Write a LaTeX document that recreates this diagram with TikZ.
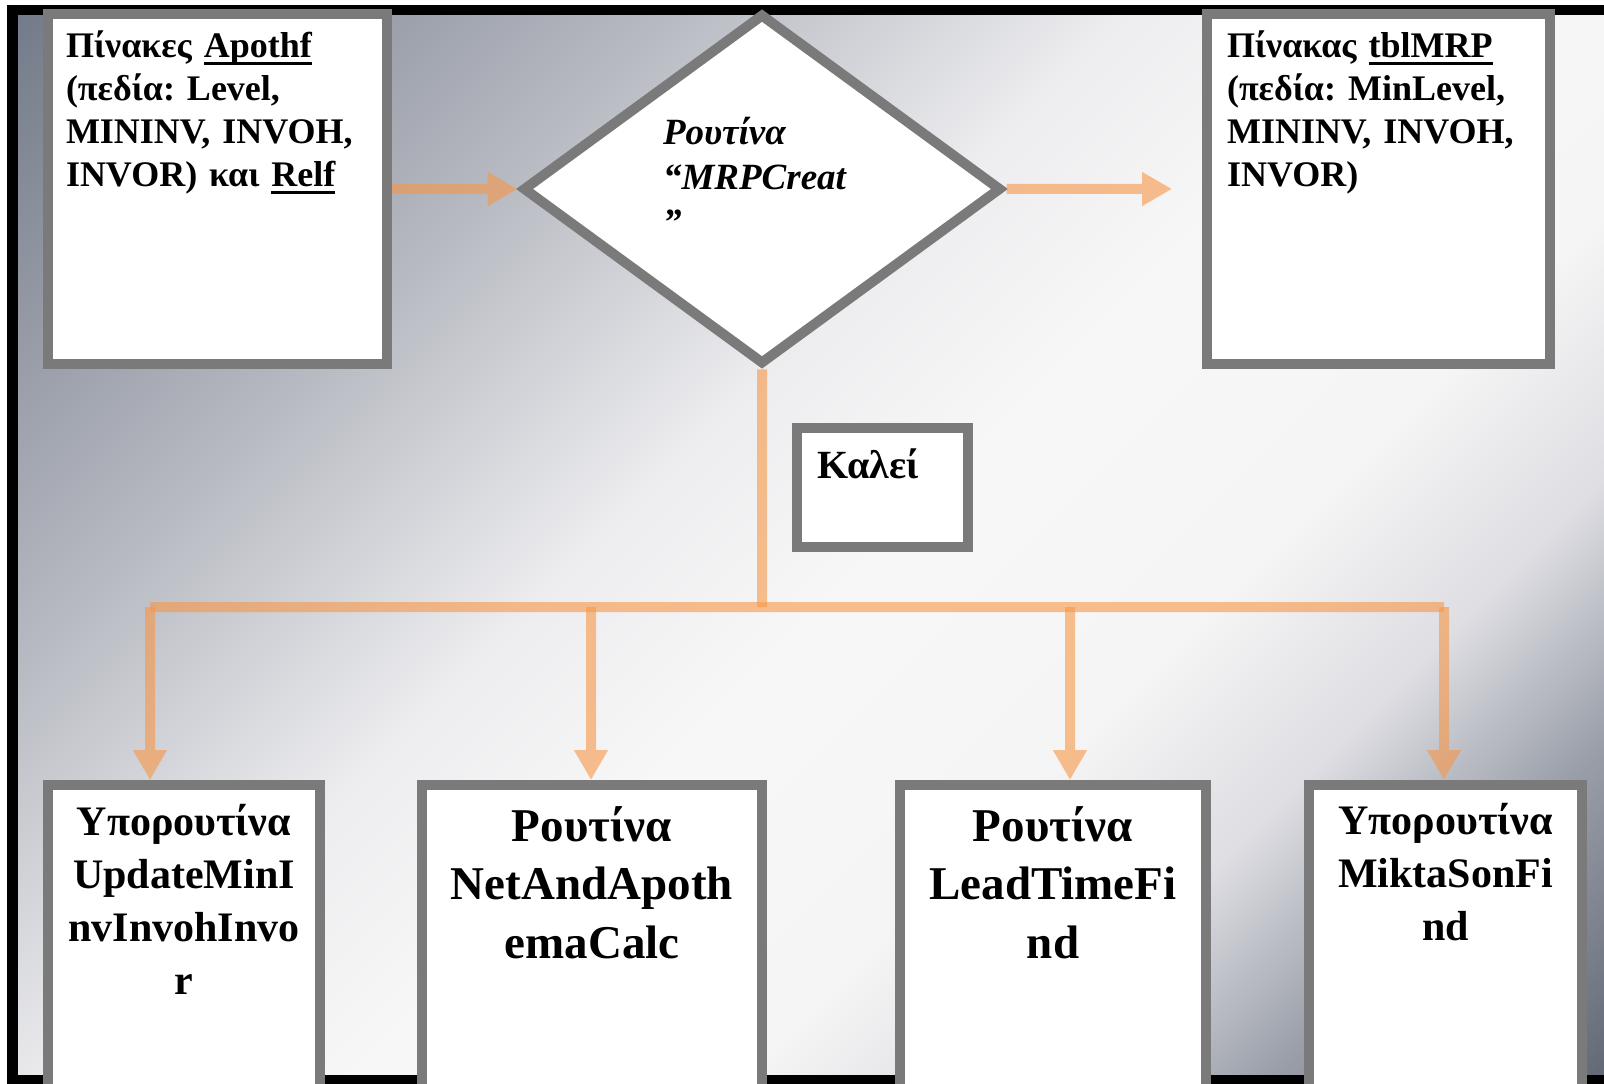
\documentclass[tikz,border=0pt]{standalone}
\usepackage{fontspec}
\setmainfont{Liberation Serif}
\usetikzlibrary{arrows.meta,shapes.geometric}

\definecolor{boxgray}{RGB}{122,122,122}
\definecolor{flow}{RGB}{247,150,70}
\newcommand{\ulword}[1]{\leavevmode\setbox0\hbox{#1}\rlap{\rule[-3.4pt]{\wd0}{1.2pt}}\box0}
\frenchspacing

\pgfdeclareverticalshading{bgfade}{100bp}{rgb(0bp)=(0.33,0.35,0.41); rgb(14bp)=(0.36,0.38,0.44); rgb(24bp)=(0.6,0.62,0.66); rgb(31bp)=(0.87,0.87,0.89); rgb(38bp)=(0.96,0.96,0.96); rgb(48bp)=(0.97,0.97,0.97); rgb(56bp)=(0.93,0.93,0.94); rgb(68bp)=(0.72,0.73,0.76); rgb(86bp)=(0.44,0.47,0.53); rgb(100bp)=(0.38,0.41,0.47)}

\begin{document}
\begin{tikzpicture}[x=0.5pt,y=0.5pt,line join=miter,
  tablebox/.style={rectangle,draw=boxgray,fill=white,line width=5pt,inner ysep=0pt,
    align=left,text height=22pt,text depth=153pt,font=\bfseries\fontsize{18}{21.5}\selectfont},
  routinebox/.style={diamond,draw=boxgray,fill=white,line width=5pt,aspect=1.35,
    minimum width=239.5pt,minimum height=175.5pt,inner sep=0pt,text width=99pt,align=left,
    text height=14pt,text depth=58pt,font=\bfseries\itshape\fontsize{18.5}{22.5}\selectfont},
  callbox/.style={rectangle,draw=boxgray,fill=white,line width=5pt,inner xsep=10pt,inner ysep=0pt,
    text width=65.5pt,align=left,text height=25pt,text depth=34.5pt,font=\bfseries\fontsize{20}{24}\selectfont},
  subbox/.style={rectangle,draw=boxgray,fill=white,line width=5pt,inner xsep=8pt,inner ysep=0pt,
    align=center,text height=25pt,text depth=137.5pt,font=\bfseries\fontsize{21}{26.5}\selectfont},
  mainbox/.style={rectangle,draw=boxgray,fill=white,line width=5pt,inner xsep=10pt,inner ysep=0pt,
    align=center,text height=28pt,text depth=134.5pt,font=\bfseries\fontsize{23.5}{29.25}\selectfont},
  flowgroup/.style={transparency group,opacity=0.6},
  flowline/.style={draw=flow,line width=5pt},
  flowarrow/.style={flowline,-{Triangle[length=15pt,width=16pt]}}]
\useasboundingbox (0,0) rectangle (1604,1083);
\clip (0,0) rectangle (1604,1083);

% Background and frame
\shade[shading=bgfade,shading angle=45] (12.5,3) rectangle (1630,1073);
\draw[black,line width=5.25pt] (12.5,3) rectangle (1630,1073);

% Node: apothf
\node[tablebox,inner xsep=9pt,text width=151.5pt] (apothf) at (217.5,894)
  {Πίνακες \ulword{Apothf}\\(πεδία: Level,\\MININV, INVOH,\\INVOR) και \ulword{Relf}};

% Node: mrpcreat
\node[routinebox] (mrpcreat) at (762,894) {Ρουτίνα\\“MRPCreat\\”};

% Node: tblmrp
\node[tablebox,inner xsep=10pt,text width=151.5pt] (tblmrp) at (1378.5,894)
  {Πίνακας \ulword{tblMRP}\\(πεδία: MinLevel,\\MININV, INVOH,\\INVOR)};

% Node: calls
\node[callbox] (calls) at (882.5,595.5) {Καλεί};

% Node: sub1 .. sub4
\node[subbox,text width=120pt] (sub1) at (184,135.5) {Υπορουτίνα\\UpdateMinI\\nvInvohInvo\\r};
\node[mainbox,text width=150pt] (sub2) at (592,135.5) {Ρουτίνα\\NetAndApoth\\emaCalc};
\node[mainbox,text width=133pt] (sub3) at (1053,135.5) {Ρουτίνα\\LeadTimeFi\\nd};
\node[subbox,text width=120.5pt,text height=24.5pt,text depth=138pt] (sub4) at (1445.5,135.5) {Υπορουτίνα\\MiktaSonFi\\nd};

% Edge: apothf -> mrpcreat
\begin{scope}[flowgroup]
  \draw[flowarrow] (apothf.east) -- (mrpcreat.west);
\end{scope}

% Edge: mrpcreat -> tblmrp
\begin{scope}[flowgroup]
  \draw[flowarrow,shorten >=15pt] (mrpcreat.east) -- (tblmrp.west);
\end{scope}

% Edge: mrpcreat -> sub1 .. sub4
\coordinate (split) at (762,476);
\coordinate (j1) at (150,476);
\coordinate (j2) at (591,476);
\coordinate (j3) at (1070,476);
\coordinate (j4) at (1444,476);
\begin{scope}[flowgroup]
  \draw[flowline] (mrpcreat.south) -- (split);
\end{scope}
\begin{scope}[flowgroup]
  \draw[flowline] (j1) -- (j4);
\end{scope}
\foreach \j/\b in {j1/sub1,j2/sub2,j3/sub3,j4/sub4}{
  \begin{scope}[flowgroup]
    \draw[flowarrow] (\j) -- (\j |- \b.north);
  \end{scope}
}

\end{tikzpicture}
\end{document}
